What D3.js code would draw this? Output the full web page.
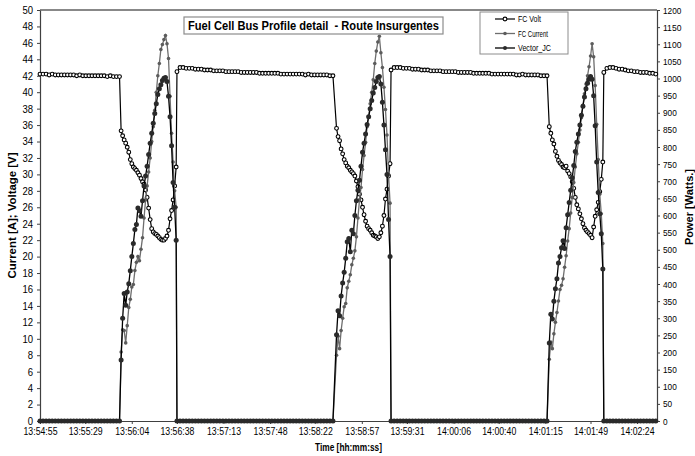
<html>
<head>
	<meta charset='utf-8' />
	<title>Fuel Cell Bus Profile detail</title>
	<script src="https://d3js.org/d3.v7.min.js"></script>
	<style>
	body { margin:0; background:#ffffff; }
	text { font-family: 'Liberation Sans', Arial, sans-serif; fill:#000; }
	.axis path, .axis line { stroke:#404040; }
	</style>
</head>
<body>
<script>

	var tickLabels = ["13:54:55","13:55:29","13:56:04","13:56:38","13:57:13","13:57:48","13:58:22",
		"13:58:57","13:59:31","14:00:06","14:00:40","14:01:15","14:01:49","14:02:24"];
	var axisEnd = "14:02:39";

	// logger period during the pulses, idle stretches are kept every 2nd sample
	var SAMPLE = 1.15, IDLE_STEP = 2.3;

	// FC Volt [V]
	var idle1Volt = [42.2,42.2,42.2,42.1,42.2,42.1,42.1,42.1,42.1,42.1,42.1,42.1,42.0,42.1,42.0,42.0,42.0,42.0,42.0,42.0,
		42.0,42.0,41.9,42.0,41.9,41.9,41.9];
	var pulse1Volt = [35.3,34.7,34.2,33.8,33.3,32.7,31.8,31.3,30.9,30.7,30.5,30.2,29.9,29.5,29.1,28.8,28.1,27.2,25.9,24.5,
		23.4,23.0,22.8,22.7,22.5,22.3,22.1,22.0,22.0,22.2,22.5,23.2,24.6,25.6,26.9,28.6,30.9];
	var idle2Volt = [42.5,43.0,43.0,42.9,42.9,42.9,42.8,42.8,42.8,42.7,42.7,42.7,42.6,42.6,42.6,42.6,42.5,42.5,42.5,42.5,
		42.5,42.4,42.4,42.4,42.4,42.4,42.4,42.3,42.3,42.3,42.3,42.3,42.3,42.3,42.2,42.2,42.2,42.2,42.2,42.2,
		42.2,42.2,42.1,42.2,42.1,42.1,42.1,42.1,42.1,42.1,42.0,42.0];
	var pulse2Volt = [35.6,34.6,34.1,33.1,32.5,31.8,31.4,31.0,30.8,30.5,30.3,30.1,29.8,29.2,28.5,27.6,26.9,26.0,25.1,24.3,
		23.7,23.4,23.2,22.9,22.6,22.5,22.4,22.2,22.4,22.9,23.7,25.0,27.0,28.2,29.8,31.3];
	var idle3Volt = [42.7,43.0,43.0,43.0,42.9,42.9,42.9,42.8,42.8,42.8,42.7,42.7,42.7,42.6,42.6,42.6,42.6,42.5,42.5,42.5,
		42.5,42.5,42.4,42.4,42.4,42.4,42.4,42.3,42.3,42.3,42.3,42.3,42.3,42.2,42.2,42.2,42.2,42.2,42.2,42.2,
		42.2,42.1,42.1,42.2,42.1,42.1,42.1,42.1,42.1,42.0,42.0,42.0];
	var pulse3Volt = [35.8,35.0,34.2,33.7,32.8,32.2,31.7,31.4,31.2,30.9,30.8,31.0,30.4,30.1,29.7,29.1,28.3,27.2,26.3,25.8,
		25.2,24.6,24.0,23.5,23.2,23.0,22.8,22.6,22.3,23.6,24.9,25.7,26.6,27.9,29.4,31.5];
	var idle4Volt = [42.4,42.9,43.0,43.0,42.9,42.8,42.8,42.7,42.6,42.6,42.5,42.5,42.4,42.4,42.4,42.3,42.3,42.2];

	// FC Current [A]
	var pulse1Current = [8.4,11.1,11.0,9.5,11.6,13.8,14.8,16.3,16.6,18.3,19.3,20.0,19.5,20.9,22.3,24.7,26.9,28.6,30.3,32.0,
		34.0,35.8,37.8,40.0,42.0,43.5,45.2,45.8,46.4,46.9,45.9,44.1,39.5,35.0,31.5,28.0,26.0];
	var pulse2Current = [8.0,10.3,8.8,11.0,12.5,13.9,14.3,16.2,17.0,17.8,19.0,19.8,20.7,22.4,24.7,26.9,28.4,30.6,32.3,33.9,
		35.8,37.0,38.6,40.0,41.5,43.5,45.0,46.1,46.8,44.8,43.0,40.6,37.9,34.8,30.0,26.5];
	var pulse3Current = [7.5,9.6,8.8,10.6,12.0,13.2,14.6,16.0,16.5,17.3,18.7,20.1,21.9,23.4,25.3,27.2,29.0,30.9,32.5,33.9,
		35.4,36.9,38.4,39.8,41.0,42.0,43.1,44.4,45.9,44.3,40.8,36.1,31.8,27.6,25.2,21.6];

	// Vector_JC [W]
	var pulse1Power = [178,300,372,338,377,401,439,480,518,559,574,622,614,598,643,686,715,744,778,811,
		840,869,898,926,953,970,982,994,1001,1003,991,948,888,804,696,624,528];
	var pulse2Power = [252,322,307,365,403,434,475,523,533,494,557,547,600,643,674,703,744,785,811,838,
		866,888,912,936,958,974,991,1003,1006,984,931,864,792,720,588,480];
	var pulse3Power = [228,312,298,350,386,415,461,480,506,526,504,564,602,638,674,710,746,787,814,838,
		864,893,919,946,970,986,998,1006,998,950,862,756,667,605,547,444];

	// current and power read zero while the bus stands
	var idle1Off = [0,0,0,0,0,0,0,0,0,0, 0,0,0,0,0,0,0,0,0,0, 0,0,0,0,0,0,0];
	var idle2Off = [0,0,0,0,0,0,0,0,0,0, 0,0,0,0,0,0,0,0,0,0, 0,0,0,0,0,0,0,0,0,0, 0,0,0,0,0,0,0,0,0,0,
		0,0,0,0,0,0,0,0,0,0, 0,0];
	var idle3Off = [0,0,0,0,0,0,0,0,0,0, 0,0,0,0,0,0,0,0,0,0, 0,0,0,0,0,0,0,0,0,0, 0,0,0,0,0,0,0,0,0,0,
		0,0,0,0,0,0,0,0,0,0, 0,0];
	var idle4Off = [0,0,0,0,0,0,0,0,0,0, 0,0,0,0,0,0,0,0];

	var blocks = [
		{start:"13:54:55", step:IDLE_STEP, volt:idle1Volt, current:idle1Off, power:idle1Off},
		{start:"13:55:56", step:SAMPLE, volt:pulse1Volt, current:pulse1Current, power:pulse1Power},
		{start:"13:56:38", step:IDLE_STEP, volt:idle2Volt, current:idle2Off, power:idle2Off},
		{start:"13:58:38", step:SAMPLE, volt:pulse2Volt, current:pulse2Current, power:pulse2Power},
		{start:"13:59:19", step:IDLE_STEP, volt:idle3Volt, current:idle3Off, power:idle3Off},
		{start:"14:01:18", step:SAMPLE, volt:pulse3Volt, current:pulse3Current, power:pulse3Power},
		{start:"14:01:59", step:IDLE_STEP, volt:idle4Volt, current:idle4Off, power:idle4Off}
	];

	var clock = function(s) {
		var p = s.split(":").map(Number);
		return p[0]*3600 + p[1]*60 + p[2];
	}
	var tZero = clock(tickLabels[0]);
	var sec = function(s) { return clock(s) - tZero; }

	var volt = [], current = [], power = [];
	blocks.forEach(function(b) {
		var s0 = sec(b.start);
		b.volt.forEach(function(v,i) { volt.push({t:s0+i*b.step, v:v}); });
		b.current.forEach(function(v,i) { current.push({t:s0+i*b.step, v:v}); });
		b.power.forEach(function(v,i) { power.push({t:s0+i*b.step, v:v}); });
	});

	var W = 695, H = 456;
	var plot = {left:40, right:657, top:10, bottom:421};

	var svg = d3.select("body").append("svg")
		.attr("width",W).attr("height",H)
		.style("display","block");

	svg.append("rect").attr("width",W).attr("height",H).attr("fill","#ffffff");

	var x = d3.scaleLinear().domain([0, sec(axisEnd)]).range([plot.left, plot.right]);
	var yL = d3.scaleLinear().domain([0,50]).range([plot.bottom, plot.top]);
	var yR = d3.scaleLinear().domain([0,1200]).range([plot.bottom, plot.top]);

	// narrow the labels a bit, the original uses a condensed face
	var squeeze = function(sel, perChar) {
		sel.each(function() {
			var t = d3.select(this);
			t.attr("textLength", t.text().length*perChar).attr("lengthAdjust","spacingAndGlyphs");
		});
	}

	// top border of the plot area
	svg.append("line")
		.attr("x1",plot.left).attr("x2",plot.right)
		.attr("y1",plot.top).attr("y2",plot.top)
		.attr("stroke","#606060").attr("stroke-width",1.3);

	var gl = svg.append("g").attr("class","axis")
		.attr("transform","translate(" + plot.left + ",0)")
		.call(d3.axisLeft(yL).tickValues(d3.range(0,51,2)).tickSize(3).tickSizeOuter(0).tickPadding(4));
	gl.selectAll("text").attr("font-size","10.5px").call(squeeze,5.3);

	var gr = svg.append("g").attr("class","axis")
		.attr("transform","translate(" + plot.right + ",0)")
		.call(d3.axisRight(yR).tickValues(d3.range(0,1201,50)).tickFormat(d3.format("d"))
			.tickSize(3).tickSizeOuter(0).tickPadding(3));
	gr.selectAll("text").attr("font-size","9.5px").call(squeeze,4.6);

	var gb = svg.append("g").attr("class","axis")
		.attr("transform","translate(0," + plot.bottom + ")")
		.call(d3.axisBottom(x).tickValues(tickLabels.map(sec))
			.tickFormat(function(d,i) { return tickLabels[i]; })
			.tickSize(3).tickSizeOuter(0).tickPadding(4));
	gb.selectAll("text").attr("font-size","10px").call(squeeze,4.25);

	svg.selectAll(".axis text").attr("font-family",null).attr("fill","#000");
	svg.selectAll(".axis path").attr("stroke-width",1.2);

	svg.append("text")
		.attr("x",(plot.left+plot.right)/2).attr("y",451)
		.attr("text-anchor","middle").attr("font-weight","bold").attr("font-size","10px")
		.attr("textLength",67).attr("lengthAdjust","spacingAndGlyphs")
		.text("Time [hh:mm:ss]");

	svg.append("text")
		.attr("transform","translate(16," + ((plot.top+plot.bottom)/2) + ") rotate(-90)")
		.attr("text-anchor","middle").attr("font-weight","bold").attr("font-size","10px")
		.attr("textLength",126).attr("lengthAdjust","spacingAndGlyphs")
		.text("Current [A]; Voltage [V]");

	svg.append("text")
		.attr("transform","translate(693,207) rotate(-90)")
		.attr("text-anchor","middle").attr("font-weight","bold").attr("font-size","10px")
		.attr("textLength",76).attr("lengthAdjust","spacingAndGlyphs")
		.text("Power [Watts.]");

	var series = [
		{name:"FC Volt", data:volt, y:yL, line:"#000000", width:1.2, r:1.9, fill:"#ffffff", stroke:"#000000", sw:1.1, label:23},
		{name:"FC Current", data:current, y:yL, line:"#6e6e6e", width:1.3, r:1.8, fill:"#5c5c5c", stroke:"none", sw:0, label:30},
		{name:"Vector_JC", data:power, y:yR, line:"#000000", width:1.3, r:2.5, fill:"#2a2a2a", stroke:"none", sw:0, label:33}
	];

	series.forEach(function(s) {
		var line = d3.line().x(function(d) { return x(d.t); }).y(function(d) { return s.y(d.v); });
		var g = svg.append("g");
		g.append("path").datum(s.data)
			.attr("fill","none").attr("stroke",s.line).attr("stroke-width",s.width)
			.attr("d",line);
		g.selectAll("circle").data(s.data).enter().append("circle")
			.attr("cx",function(d) { return x(d.t); })
			.attr("cy",function(d) { return s.y(d.v); })
			.attr("r",s.r)
			.attr("fill",s.fill).attr("stroke",s.stroke).attr("stroke-width",s.sw);
	});

	// title box
	var tg = svg.append("g");
	tg.append("rect").attr("x",184).attr("y",17).attr("width",259).attr("height",17)
		.attr("fill","#ffffff").attr("stroke","#8c8c8c").attr("stroke-width",1.2);
	tg.append("text").attr("x",313.5).attr("y",30)
		.attr("text-anchor","middle").attr("font-weight","bold").attr("font-size","12.5px")
		.attr("textLength",251).attr("lengthAdjust","spacingAndGlyphs")
		.style("white-space","pre")
		.text("Fuel Cell Bus Profile detail  - Route Insurgentes");

	// legend
	var lg = svg.append("g");
	lg.append("rect").attr("x",480).attr("y",12).attr("width",88).attr("height",42)
		.attr("fill","#ffffff").attr("stroke","#8c8c8c").attr("stroke-width",1);
	series.forEach(function(s,i) {
		var yy = 19 + i*14.5;
		lg.append("line").attr("x1",495).attr("x2",515).attr("y1",yy).attr("y2",yy)
			.attr("stroke",s.line).attr("stroke-width",s.width);
		lg.append("circle").attr("cx",505).attr("cy",yy).attr("r",Math.min(s.r,2))
			.attr("fill",s.fill).attr("stroke",s.stroke).attr("stroke-width",s.sw);
		lg.append("text").attr("x",518).attr("y",yy).attr("dy","0.35em")
			.attr("font-size","9px").attr("textLength",s.label).attr("lengthAdjust","spacingAndGlyphs")
			.text(s.name);
	});

</script>
</body>
</html>
